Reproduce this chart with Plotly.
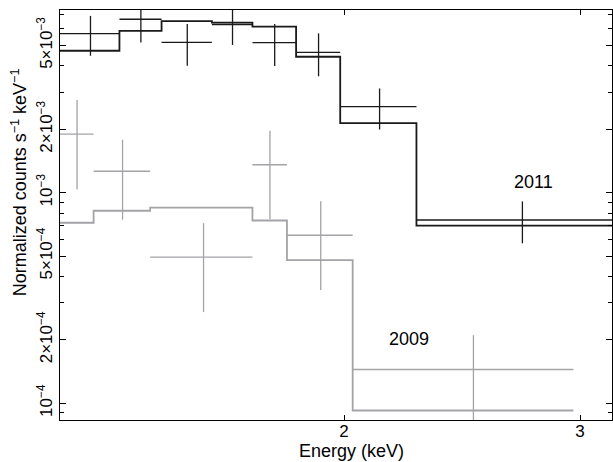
import math
import plotly.graph_objects as go

# ---------------- data ----------------
# 2011 spectrum (black)
edges_2011 = [1.228, 1.360, 1.462, 1.594, 1.709, 1.842, 1.987, 2.265, 3.169]
rate_2011 = [5.69e-3, 6.66e-3, 5.17e-3, 6.29e-3, 5.16e-3, 4.64e-3, 2.56e-3, 7.42e-4]
err_2011 = [1.22e-3, 1.50e-3, 1.16e-3, 1.26e-3, 1.16e-3, 1.07e-3, 0.565e-3, 1.67e-4]
model_2011 = [4.72e-3, 5.86e-3, 6.52e-3, 6.42e-3, 6.14e-3, 4.42e-3, 2.14e-3, 6.97e-4]

# 2009 spectrum (grey)
edges_2009 = [1.228, 1.301, 1.4336, 1.709, 1.8133, 2.030, 2.9656]
rate_2009 = [1.896e-3, 1.264e-3, 4.94e-4, 1.357e-3, 6.28e-4, 1.447e-4]
err_2009 = [0.86e-3, 0.52e-3, 2.23e-4, 0.61e-3, 2.83e-4, 0.66e-4]
model_2009 = [7.20e-4, 8.21e-4, 8.49e-4, 7.38e-4, 4.78e-4, 9.24e-5]

# axis ticks
x_range = [1.228, 3.169]
y_range = [8.33e-5, 7.37e-3]
x_tickvals = [2, 3]
x_ticktext = ["2", "3"]
y_tickvals = [1e-4, 2e-4, 5e-4, 1e-3, 2e-3, 5e-3]
y_ticktext = ["10<sup>−4</sup>", "2×10<sup>−4</sup>", "5×10<sup>−4</sup>",
              "10<sup>−3</sup>", "2×10<sup>−3</sup>", "5×10<sup>−3</sup>"]
y_minor = [9e-5, 3e-4, 4e-4, 6e-4, 7e-4, 8e-4, 9e-4, 3e-3, 4e-3, 6e-3, 7e-3]

labels = [("2011", 2.767, 1.128e-3), ("2009", 2.236, 2.02e-4)]

BLACK = "#1a1a1a"
GREY = "#a3a3a8"
FONT = "Liberation Sans"


def centers(edges):
    return [(a + b) / 2 for a, b in zip(edges[:-1], edges[1:])]


def halfw(edges):
    return [(b - a) / 2 for a, b in zip(edges[:-1], edges[1:])]


fig = go.Figure()

for edges, rate, err, model, col in [
    (edges_2009, rate_2009, err_2009, model_2009, GREY),
    (edges_2011, rate_2011, err_2011, model_2011, BLACK),
]:
    fig.add_trace(go.Scatter(
        x=edges, y=model + [model[-1]], mode="lines", line_shape="hv",
        line=dict(color=col, width=1.8), hoverinfo="skip", showlegend=False))
    fig.add_trace(go.Scatter(
        x=centers(edges), y=rate, mode="markers",
        marker=dict(size=0.1, color=col, opacity=0),
        error_x=dict(type="data", array=halfw(edges), visible=True,
                     thickness=1.3, width=0, color=col),
        error_y=dict(type="data", array=err, visible=True,
                     thickness=1.3, width=0, color=col),
        showlegend=False))

for txt, lx, ly in labels:
    fig.add_annotation(x=math.log10(lx), y=math.log10(ly), xref="x", yref="y",
                       text=txt, showarrow=False, xanchor="center", yanchor="middle",
                       font=dict(family=FONT, size=18, color="black"))

# axis titles as annotations
fig.add_annotation(x=-0.074, y=0.58, xref="paper", yref="paper",
                   xanchor="center", yanchor="middle",
                   text="Normalized counts s<sup>−1</sup> keV<sup>−1</sup>",
                   textangle=-90, showarrow=False,
                   font=dict(family=FONT, size=18, color="black"))
fig.add_annotation(x=0.528, y=-0.075, xref="paper", yref="paper",
                   xanchor="center", yanchor="middle",
                   text="Energy (keV)", showarrow=False,
                   font=dict(family=FONT, size=18, color="black"))

fig.update_layout(
    width=613, height=462,
    margin=dict(l=60, r=1, t=10, b=42),
    paper_bgcolor="white", plot_bgcolor="white",
    font=dict(family=FONT, size=17, color="black"),
    xaxis=dict(type="log", range=[math.log10(v) for v in x_range],
               tickvals=x_tickvals, ticktext=x_ticktext, automargin=False,
               ticks="inside", ticklen=5, tickwidth=1, tickcolor="black",
               ticklabelstandoff=-4,
               showline=True, linecolor="black", linewidth=1, mirror="allticks",
               showgrid=False, zeroline=False,
               tickfont=dict(family=FONT, size=17, color="black")),
    yaxis=dict(type="log", range=[math.log10(v) for v in y_range],
               tickvals=y_tickvals, ticktext=y_ticktext, tickangle=-90,
               automargin=False, ticklabelstandoff=0,
               ticks="inside", ticklen=6, tickwidth=1, tickcolor="black",
               minor=dict(tickvals=y_minor, ticks="inside", ticklen=4,
                          tickwidth=1, tickcolor="black", showgrid=False),
               showline=True, linecolor="black", linewidth=1, mirror="allticks",
               showgrid=False, zeroline=False,
               tickfont=dict(family=FONT, size=17, color="black")),
)

fig.write_html(
    "out.html",
    config={"displayModeBar": False},
    post_script="document.body.style.margin='0';document.body.style.overflow='hidden';",
)
